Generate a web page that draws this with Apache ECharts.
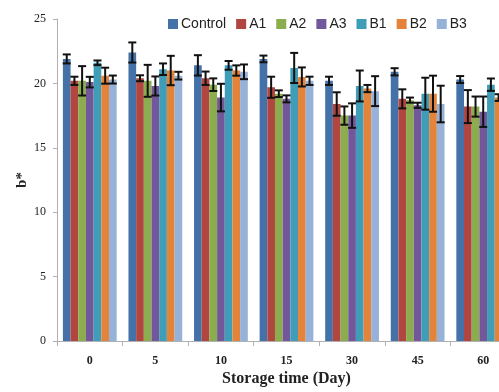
<!DOCTYPE html>
<html>
<head>
<meta charset="utf-8" />
<title>b* storage</title>
<style>
  html, body { margin: 0; padding: 0; background: #fff; }
  #chart { width: 499px; height: 392px; }
</style>
</head>
<body>
<div id="chart"></div>
<script src="https://cdn.jsdelivr.net/npm/echarts@6/dist/echarts.min.js"></script>
<script>
var categories = ['0', '5', '10', '15', '30', '45', '60'];
var seriesNames = ['Control', 'A1', 'A2', 'A3', 'B1', 'B2', 'B3'];

// mean values
var control = [21.9, 22.4, 21.4, 21.9, 20.2, 20.9, 20.3];
var a1 = [20.2, 20.4, 20.4, 19.7, 18.4, 18.8, 18.2];
var a2 = [20.2, 20.2, 19.9, 19.2, 17.5, 18.7, 18.2];
var a3 = [20.1, 19.8, 18.9, 18.8, 17.5, 18.3, 17.8];
var b1 = [21.6, 21.1, 21.4, 21.2, 19.8, 19.2, 19.9];
var b2 = [20.6, 21.0, 21.0, 20.5, 19.6, 19.2, 18.9];
var b3 = [20.3, 20.6, 20.9, 20.2, 19.4, 18.4, 18.8];

// error bar half widths
var controlErr = [0.35, 0.78, 0.79, 0.26, 0.32, 0.28, 0.27];
var a1Err = [0.32, 0.23, 0.52, 0.82, 0.91, 0.74, 1.28];
var a2Err = [1.14, 1.24, 0.49, 0.26, 0.71, 0.2, 0.78];
var a3Err = [0.41, 0.74, 1.07, 0.27, 0.95, 0.2, 1.18];
var b1Err = [0.18, 0.45, 0.34, 1.17, 1.2, 1.24, 0.48];
var b2Err = [0.62, 1.14, 0.4, 0.74, 0.28, 1.4, 0.26];
var b3Err = [0.31, 0.3, 0.57, 0.32, 1.16, 1.42, 0.4];

var yTicks = [0, 5, 10, 15, 20, 25];

var values = [control, a1, a2, a3, b1, b2, b3];
var errors = [controlErr, a1Err, a2Err, a3Err, b1Err, b2Err, b3Err];
var colors = ['#4472a8', '#b0463f', '#8cad4d', '#72589a', '#3f9db8', '#e4843a', '#96b2d8'];

var catGap = 0.18;
var nBars = seriesNames.length;
var serifFont = '"Liberation Serif", "DejaVu Serif", serif';

var series = [];
for (var i = 0; i < nBars; i++) {
  series.push({
    name: seriesNames[i],
    type: 'bar',
    barGap: '0%',
    barCategoryGap: (catGap * 100) + '%',
    itemStyle: { color: colors[i] },
    data: values[i]
  });
}
// error bars drawn on top
for (var j = 0; j < nBars; j++) {
  (function (idx) {
    var errData = [];
    for (var k = 0; k < categories.length; k++) {
      errData.push([k, values[idx][k] - errors[idx][k], values[idx][k] + errors[idx][k]]);
    }
    series.push({
      type: 'custom',
      name: seriesNames[idx] + ' err',
      z: 10,
      silent: true,
      renderItem: function (params, api) {
        var cat = api.value(0);
        var lo = api.coord([cat, api.value(1)]);
        var hi = api.coord([cat, api.value(2)]);
        var cw = api.size([1, 0])[0];
        var bw = cw * (1 - catGap) / nBars;
        var x = lo[0] - cw * (1 - catGap) / 2 + (idx + 0.5) * bw;
        var hw = 4;
        var st = { stroke: '#111', lineWidth: 2 };
        return {
          type: 'group',
          children: [
            { type: 'line', shape: { x1: x, y1: lo[1], x2: x, y2: hi[1] }, style: st },
            { type: 'line', shape: { x1: x - hw, y1: lo[1], x2: x + hw, y2: lo[1] }, style: st },
            { type: 'line', shape: { x1: x - hw, y1: hi[1], x2: x + hw, y2: hi[1] }, style: st }
          ]
        };
      },
      encode: { x: 0, y: [1, 2] },
      data: errData
    });
  })(j);
}

var chart = echarts.init(document.getElementById('chart'));
chart.setOption({
  animation: false,
  color: colors,
  legend: {
    data: seriesNames,
    top: 12,
    left: 163,
    itemWidth: 10,
    itemHeight: 10,
    itemGap: 10,
    icon: 'rect',
    textStyle: { fontFamily: '"Liberation Sans", Arial, sans-serif', fontSize: 14, color: '#222', padding: [0, 0, 0, -2] }
  },
  grid: { left: 57, right: -17, top: 19, bottom: 51, outerBoundsMode: 'none' },
  xAxis: {
    type: 'category',
    data: categories,
    name: 'Storage time (Day)',
    nameLocation: 'middle',
    nameGap: 30,
    nameMoveOverlap: false,
    nameTextStyle: { fontFamily: serifFont, fontWeight: 'bold', fontSize: 16, color: '#222' },
    axisLine: { lineStyle: { color: '#b0b0b0', width: 1 } },
    axisTick: { show: true, length: 5, lineStyle: { color: '#b0b0b0' } },
    axisLabel: { fontFamily: serifFont, fontWeight: 'bold', fontSize: 12, color: '#222', margin: 14 }
  },
  yAxis: {
    type: 'value',
    min: 0,
    max: yTicks[yTicks.length - 1],
    interval: yTicks[1] - yTicks[0],
    name: 'b*',
    nameLocation: 'middle',
    nameGap: 27,
    nameMoveOverlap: false,
    nameTextStyle: { fontFamily: serifFont, fontWeight: 'bold', fontSize: 15, color: '#222' },
    axisLine: { show: true, lineStyle: { color: '#b0b0b0', width: 1 } },
    axisTick: { show: true, length: 4, lineStyle: { color: '#b0b0b0' } },
    axisLabel: { fontFamily: serifFont, fontSize: 12, color: '#222', margin: 11 },
    splitLine: { show: false }
  },
  series: series
});
</script>
</body>
</html>
